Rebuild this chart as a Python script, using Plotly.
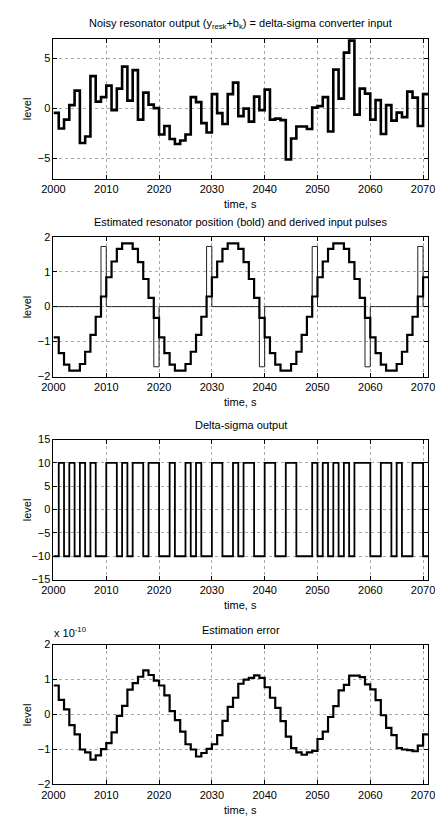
import plotly.graph_objects as go

# target picture is 443x823; the page body has an 8px default margin,
# so the figure itself is drawn 8px smaller and every pixel position is shifted.
W_TARGET, H_TARGET = 443, 823
OFF = 8
W, H = W_TARGET - OFF, H_TARGET - OFF

# ---------------- data ----------------
years = list(range(2000, 2071))  # one sample per second, 2000..2070

noisy_input = [-0.43, -2.0, -1.1, 0.35, 1.8, -3.45, -2.8, 3.25, 0.7, 1.15,
               2.3, -0.15, 2.0, 4.2, 0.8, 3.85, -1.1, 1.6, 0.4, 0.05,
               -2.6, -1.75, -3.05, -3.55, -3.2, -2.6, 1.15, 0.65, -1.45, -2.4,
               1.45, -0.45, -1.55, 1.45, 2.6, -0.75, 0.0, -1.3, 1.2, -0.15,
               1.9, -1.1, -1.0, -1.15, -5.1, -3.0, -1.8, -1.8, -2.05, 0.1,
               0.25, 1.15, -2.3, 3.9, 1.0, 5.6, 6.8, -0.6, 2.0, 1.5,
               -1.1, 0.85, -2.55, 0.35, -1.2, -0.4, -0.85, 1.7, 1.1, -1.75,
               1.45]

est_position = [-0.88, -1.33, -1.66, -1.83, -1.83, -1.64, -1.29, -0.81, -0.29, 0.29,
                0.84, 1.29, 1.65, 1.81, 1.81, 1.65, 1.27, 0.79, 0.25, -0.32,
                -0.88, -1.33, -1.66, -1.83, -1.83, -1.64, -1.29, -0.81, -0.29, 0.29,
                0.84, 1.29, 1.65, 1.81, 1.81, 1.65, 1.27, 0.79, 0.25, -0.32,
                -0.88, -1.33, -1.66, -1.83, -1.83, -1.64, -1.29, -0.81, -0.29, 0.29,
                0.84, 1.29, 1.65, 1.81, 1.81, 1.65, 1.27, 0.79, 0.25, -0.32,
                -0.88, -1.33, -1.66, -1.83, -1.83, -1.64, -1.29, -0.81, -0.29, 0.29,
                0.84]

input_pulses = [0, 0, 0, 0, 0, 0, 0, 0, 0, 1.72,
                0, 0, 0, 0, 0, 0, 0, 0, 0, -1.72,
                0, 0, 0, 0, 0, 0, 0, 0, 0, 1.72,
                0, 0, 0, 0, 0, 0, 0, 0, 0, -1.72,
                0, 0, 0, 0, 0, 0, 0, 0, 0, 1.72,
                0, 0, 0, 0, 0, 0, 0, 0, 0, -1.72,
                0, 0, 0, 0, 0, 0, 0, 0, 0, 1.72,
                0]

ds_output = [-10, 10, -10, 10, -10, 10, -10, 10, -10, -10,
             10, 10, -10, 10, -10, 10, 10, -10, 10, 10,
             -10, -10, 10, -10, -10, 10, -10, 10, -10, -10,
             10, 10, -10, -10, 10, -10, 10, 10, -10, -10,
             10, 10, -10, -10, 10, 10, -10, -10, -10, 10,
             -10, 10, -10, 10, -10, 10, -10, 10, 10, 10,
             -10, -10, 10, 10, -10, 10, -10, -10, 10, 10,
             -10]

# estimation error, in units of 1e-10
est_error_e10 = [0.83, 0.42, 0.15, -0.3, -0.57, -1.0, -1.08, -1.29, -1.17, -0.99,
                 -0.82, -0.51, -0.04, 0.25, 0.71, 0.9, 1.08, 1.26, 1.13, 0.97,
                 0.83, 0.55, 0.1, -0.16, -0.49, -0.85, -1.0, -1.2, -1.1, -0.98,
                 -0.85, -0.59, -0.18, 0.22, 0.48, 0.88, 1.0, 1.05, 1.12, 1.05,
                 0.78, 0.48, 0.19, -0.19, -0.63, -0.96, -1.08, -1.15, -1.08, -1.04,
                 -0.7, -0.49, -0.07, 0.24, 0.69, 0.85, 1.11, 1.11, 1.07, 0.86,
                 0.72, 0.41, -0.02, -0.38, -0.59, -0.96, -1.0, -1.02, -1.05, -0.89,
                 -0.57]

x_ticks = [2000, 2010, 2020, 2030, 2040, 2050, 2060, 2070]
x_range = [2000, 2071]

titles = ["Noisy resonator output (y<sub>resk</sub>+b<sub>k</sub>) = delta-sigma converter input",
          "Estimated resonator position (bold) and derived input pulses",
          "Delta-sigma output",
          "Estimation error"]
y_ranges = [[-7, 7], [-2, 2], [-15, 15], [-2, 2]]
y_ticks = [[-5, 0, 5], [-2, -1, 0, 1, 2], [-15, -10, -5, 0, 5, 10, 15], [-2, -1, 0, 1, 2]]

# ---------------- layout geometry (pixels in the 443x823 picture) ----------------
LEFT, RIGHT = 43, 435
TOPS = [33, 234, 440, 648]
AX_H = 142

FONT = "Liberation Sans, Arial, Helvetica, sans-serif"


def px(x):
    return (x - OFF) / W


def py(y):
    return 1 - (y - OFF) / H


def stairs(y):
    xs = years + [years[-1] + 1]
    ys = list(y) + [y[-1]]
    return xs, ys


fig = go.Figure()

traces = [
    (1, noisy_input, 2.6, "black"),
    (2, input_pulses, 1.0, "#222222"),
    (2, est_position, 2.2, "black"),
    (3, ds_output, 1.8, "black"),
    (4, est_error_e10, 2.2, "black"),
]
for k, y, w, c in traces:
    xs, ys = stairs(y)
    fig.add_trace(go.Scatter(x=xs, y=ys, mode="lines",
                             line=dict(shape="hv", width=w, color=c),
                             xaxis="x" if k == 1 else f"x{k}",
                             yaxis="y" if k == 1 else f"y{k}",
                             showlegend=False, hoverinfo="skip"))

annotations = []
for i in range(4):
    k = i + 1
    top = TOPS[i]
    bot = top + AX_H
    xname = "xaxis" if k == 1 else f"xaxis{k}"
    yname = "yaxis" if k == 1 else f"yaxis{k}"
    fig.layout[xname] = dict(
        domain=[px(LEFT), px(RIGHT)], range=x_range, tickvals=x_ticks,
        anchor="y" if k == 1 else f"y{k}",
        showgrid=True, gridcolor="#a8a8a8", griddash="dot", gridwidth=1,
        zeroline=False, showline=True, linecolor="black", linewidth=1, mirror="ticks",
        ticks="inside", ticklen=4, tickcolor="black",
        tickfont=dict(family=FONT, size=11, color="black"),
    )
    fig.layout[yname] = dict(
        domain=[py(bot), py(top)], range=y_ranges[i], tickvals=y_ticks[i],
        anchor="x" if k == 1 else f"x{k}",
        showgrid=True, gridcolor="#a8a8a8", griddash="dot", gridwidth=1,
        zeroline=False, showline=True, linecolor="black", linewidth=1, mirror="ticks",
        ticks="inside", ticklen=4, tickcolor="black",
        tickfont=dict(family=FONT, size=11, color="black"),
    )
    annotations.append(dict(text=titles[i], xref="paper", yref="paper",
                            x=px((LEFT + RIGHT) / 2), y=py(top - 15),
                            xanchor="center", yanchor="middle", showarrow=False,
                            font=dict(family=FONT, size=11, color="black")))
    annotations.append(dict(text="time, s", xref="paper", yref="paper",
                            x=px((LEFT + RIGHT) / 2), y=py(bot + 26),
                            xanchor="center", yanchor="middle", showarrow=False,
                            font=dict(family=FONT, size=11, color="black")))
    annotations.append(dict(text="level", xref="paper", yref="paper",
                            x=px(15), y=py(top + AX_H / 2), textangle=-90,
                            xanchor="center", yanchor="middle", showarrow=False,
                            font=dict(family=FONT, size=11, color="black")))

annotations.append(dict(text="x 10<sup>-10</sup>", xref="paper", yref="paper",
                        x=px(LEFT - 2), y=py(TOPS[3] - 4),
                        xanchor="left", yanchor="bottom", showarrow=False,
                        font=dict(family=FONT, size=11, color="black")))

fig.update_layout(width=W, height=H, margin=dict(l=0, r=0, t=0, b=0),
                  paper_bgcolor="white", plot_bgcolor="white",
                  annotations=annotations, showlegend=False)

fig.write_html("out.html")
